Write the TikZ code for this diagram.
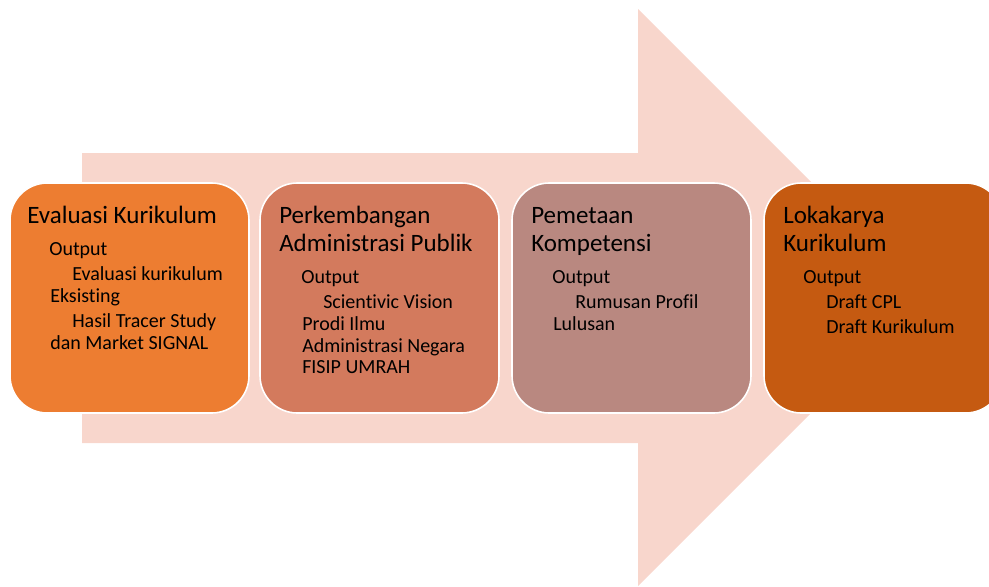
\documentclass[tikz,border=0pt]{standalone}
\usepackage{fontspec}
\setmainfont[Ligatures=NoCommon]{Carlito}
\definecolor{arrowfill}{HTML}{F8D6CC}
\definecolor{stageA}{HTML}{ED7D31}
\definecolor{stageB}{HTML}{D37A5D}
\definecolor{stageC}{HTML}{B98880}
\definecolor{stageD}{HTML}{C55A11}
\begin{document}
\begin{tikzpicture}[x=0.75pt,y=-0.75pt,
  stage/.style={rectangle, draw=white, line width=1.2pt, rounded corners=28pt,
    minimum width=179.25pt, minimum height=172.5pt, inner sep=0pt},
  title/.style={anchor=base west, inner sep=0pt, font=\fontsize{18.75pt}{20.6pt}\selectfont},
  body/.style={anchor=base west, inner sep=0pt, font=\fontsize{15pt}{16.5pt}\selectfont}]
\useasboundingbox (0,0) rectangle (989,586);

% broad background arrow
\fill[arrowfill] (82,153) -- (638,153) -- (638,9) -- (926.5,297.5)
  -- (638,586) -- (638,443) -- (82,443) -- cycle;

% the four stages
\node[stage, fill=stageA] (s1) at (129.5,298) {};
\node[stage, fill=stageB] (s2) at (379.5,298) {};
\node[stage, fill=stageC] (s3) at (631.5,298) {};
\node[stage, fill=stageD] (s4) at (883.5,298) {};

% stage 1
\node[title] (s1a) at (27,223) {Evaluasi Kurikulum};
\node[body] (s1b) at (49,255) {Output};
\node[body] (s1c) at (72,280) {Evaluasi kurikulum};
\node[body] (s1d) at (50,302) {Eksisting};
\node[body] (s1e) at (72,327) {Hasil Tracer Study};
\node[body] (s1f) at (50,349) {dan Market SIGNAL};

% stage 2
\node[title] (s2a) at (279,223) {Perkembangan};
\node[title] (s2b) at (279,251) {Administrasi Publik};
\node[body] (s2c) at (301,283) {Output};
\node[body] (s2d) at (323,308) {Scientivic Vision};
\node[body] (s2e) at (302,330) {Prodi Ilmu};
\node[body] (s2f) at (302,352) {Administrasi Negara};
\node[body] (s2g) at (302,373) {FISIP UMRAH};

% stage 3
\node[title] (s3a) at (531,223) {Pemetaan};
\node[title] (s3b) at (531,251) {Kompetensi};
\node[body] (s3c) at (552,283) {Output};
\node[body] (s3d) at (575,308) {Rumusan Profil};
\node[body] (s3e) at (553,330) {Lulusan};

% stage 4
\node[title] (s4a) at (783,223) {Lokakarya};
\node[title] (s4b) at (783,251) {Kurikulum};
\node[body] (s4c) at (803,283) {Output};
\node[body] (s4d) at (826,308) {Draft CPL};
\node[body] (s4e) at (826,333) {Draft Kurikulum};
\end{tikzpicture}
\end{document}
